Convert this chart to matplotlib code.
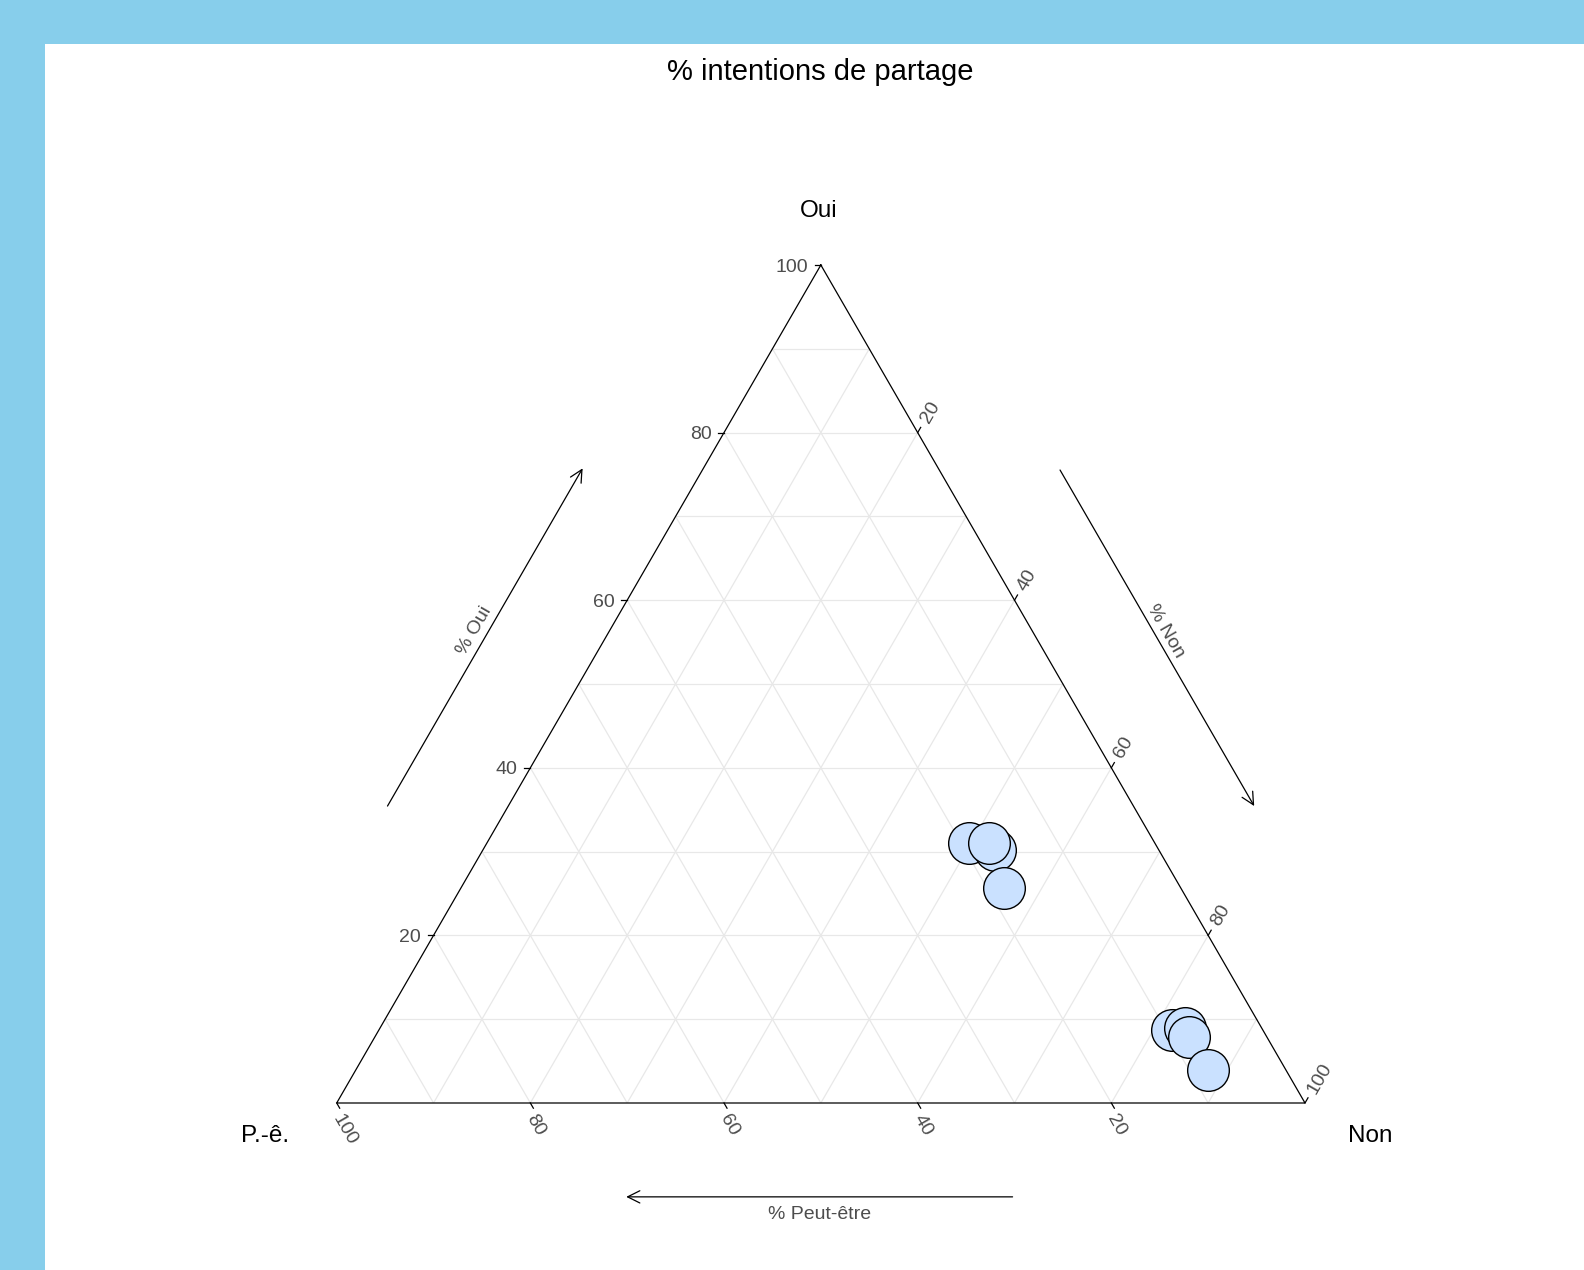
import numpy as np
import matplotlib
matplotlib.use("Agg")
import matplotlib.pyplot as plt
from matplotlib.patches import Rectangle

plt.rcParams['font.family'] = ['Liberation Sans', 'DejaVu Sans']

# Data (% Oui / % Non / % Peut-etre)
oui = [31.0, 30.2, 25.7, 31.0, 8.7, 8.9, 7.9, 3.9]
non = [49.8, 52.9, 56.1, 51.9, 81.9, 83.2, 84.1, 88.0]
peut_etre = [19.2, 16.9, 18.2, 17.1, 9.4, 7.9, 8.0, 8.1]

tick_values = [20, 40, 60, 80, 100]
grid_values = [10, 20, 30, 40, 50, 60, 70, 80, 90]

title = "% intentions de partage"
vertex_labels = {"top": "Oui", "left": "P.-ê.", "right": "Non"}
arrow_labels = {"top": "% Oui", "left": "% Peut-être", "right": "% Non"}

H = np.sqrt(3) / 2


def tern(t, l, r):
    # t = top (Oui), l = left (Peut-etre), r = right (Non)
    t, l, r = np.asarray(t, float), np.asarray(l, float), np.asarray(r, float)
    s = t + l + r
    t, r = t / s, r / s
    return r + t / 2, t * H


W, Hpx = 1584, 1270
fig = plt.figure(figsize=(W / 100, Hpx / 100), dpi=100, facecolor="#87CEEB")
fig.patches.append(Rectangle((45 / W, 0), 1 - 45 / W, 1 - 44 / Hpx,
                             transform=fig.transFigure, facecolor="white",
                             edgecolor="none", zorder=-10))

x0, x1 = 336.7, 1305.0
ytop, ybot = 265.0, 1103.0
ax = fig.add_axes([x0 / W, 1 - ybot / Hpx, (x1 - x0) / W, (ybot - ytop) / Hpx])
ax.set_xlim(0, 1)
ax.set_ylim(0, H)
ax.axis("off")
ax.patch.set_alpha(0)

grid_col = "#e8e8e8"
for g in grid_values:
    v = g / 100
    # constant Oui
    xs, ys = tern([v, v], [1 - v, 0], [0, 1 - v])
    ax.plot(xs, ys, color=grid_col, lw=0.9, zorder=1)
    # constant Non
    xs, ys = tern([1 - v, 0], [0, 1 - v], [v, v])
    ax.plot(xs, ys, color=grid_col, lw=0.9, zorder=1)
    # constant Peut-etre
    xs, ys = tern([1 - v, 0], [v, v], [0, 1 - v])
    ax.plot(xs, ys, color=grid_col, lw=0.9, zorder=1)

# triangle border
xs, ys = tern([1, 0, 0, 1], [0, 1, 0, 0], [0, 0, 1, 0])
ax.plot(xs, ys, color="black", lw=0.9, zorder=3, clip_on=False)

# ticks and labels
tl = 6 / 968.3
lab_col = "#4d4d4d"
for tv in tick_values:
    v = tv / 100
    # Oui (left edge)
    px, py = tern(v, 1 - v, 0)
    ax.plot([px, px - tl], [py, py], color="black", lw=0.9, clip_on=False)
    ax.annotate(str(tv), (px, py), xytext=(-9, -1.5), textcoords="offset points",
                ha="right", va="center", fontsize=14, color=lab_col)
    # Non (right edge)
    px, py = tern(1 - v, 0, v)
    ax.plot([px, px + tl * 0.5], [py, py + tl * H], color="black", lw=0.9, clip_on=False)
    ax.annotate(str(tv), (px, py), xytext=(5, 7.7), textcoords="offset points",
                ha="left", va="center", rotation=60, rotation_mode="anchor",
                fontsize=14, color=lab_col)
    # Peut-etre (bottom edge)
    px, py = tern(0, v, 1 - v)
    ax.plot([px, px + tl * 0.5], [py, py - tl * H], color="black", lw=0.9, clip_on=False)
    ax.annotate(str(tv), (px, py), xytext=(0, -9.5), textcoords="offset points",
                ha="left", va="center", rotation=-60, rotation_mode="anchor",
                fontsize=14, color=lab_col)

# axis arrows, offset outwards from each edge
d_side = 0.108
d_bot = 0.097
arrow_kw = dict(arrowstyle="->", lw=0.9, color="black", mutation_scale=22, shrinkA=0, shrinkB=0)
# left edge (Oui increasing upwards)
n_left = np.array([-H, 0.5])
e_left = np.array([0.5, H])
p0 = 0.292 * e_left + d_side * n_left
p1 = 0.695 * e_left + d_side * n_left
ax.annotate("", xy=p1, xytext=p0, arrowprops=arrow_kw, annotation_clip=False)
pm = 0.494 * e_left + 0.121 * n_left
ax.text(pm[0], pm[1], arrow_labels["top"], rotation=60, ha="center", va="center",
        fontsize=14, color=lab_col, rotation_mode="anchor")
# right edge (Non increasing downwards)
top = np.array([0.5, H])
n_right = np.array([H, 0.5])
e_right = np.array([0.5, -H])
p0 = top + 0.307 * e_right + d_side * n_right
p1 = top + 0.708 * e_right + d_side * n_right
ax.annotate("", xy=p1, xytext=p0, arrowprops=arrow_kw, annotation_clip=False)
pm = top + 0.506 * e_right + 0.119 * n_right
ax.text(pm[0], pm[1], arrow_labels["right"], rotation=-60, ha="center", va="center",
        fontsize=14, color=lab_col, rotation_mode="anchor")
# bottom edge (Peut-etre increasing leftwards)
ax.annotate("", xy=(0.299, -d_bot), xytext=(0.698, -d_bot), arrowprops=arrow_kw,
            annotation_clip=False)
ax.text(0.4984, -0.1148, arrow_labels["left"], ha="center", va="center",
        fontsize=14, color=lab_col)

# vertex labels
ax.text(0.4974, 0.9217, vertex_labels["top"], ha="center", va="center", fontsize=17.5, color="black")
ax.text(-0.0744, -0.0345, vertex_labels["left"], ha="center", va="center", fontsize=17.5, color="black")
ax.text(1.067, -0.0345, vertex_labels["right"], ha="center", va="center", fontsize=17.5, color="black")

# points
xs, ys = tern(oui, peut_etre, non)
for xp, yp in zip(xs, ys):
    ax.scatter([xp], [yp], s=900, facecolor="#CAE1FF", edgecolor="black", linewidths=1.0,
               zorder=5, clip_on=False)

fig.text(820 / W, 1 - 72 / Hpx, title, ha="center", va="center", fontsize=21, color="black")

fig.savefig("out.png", dpi=100, facecolor=fig.get_facecolor())
